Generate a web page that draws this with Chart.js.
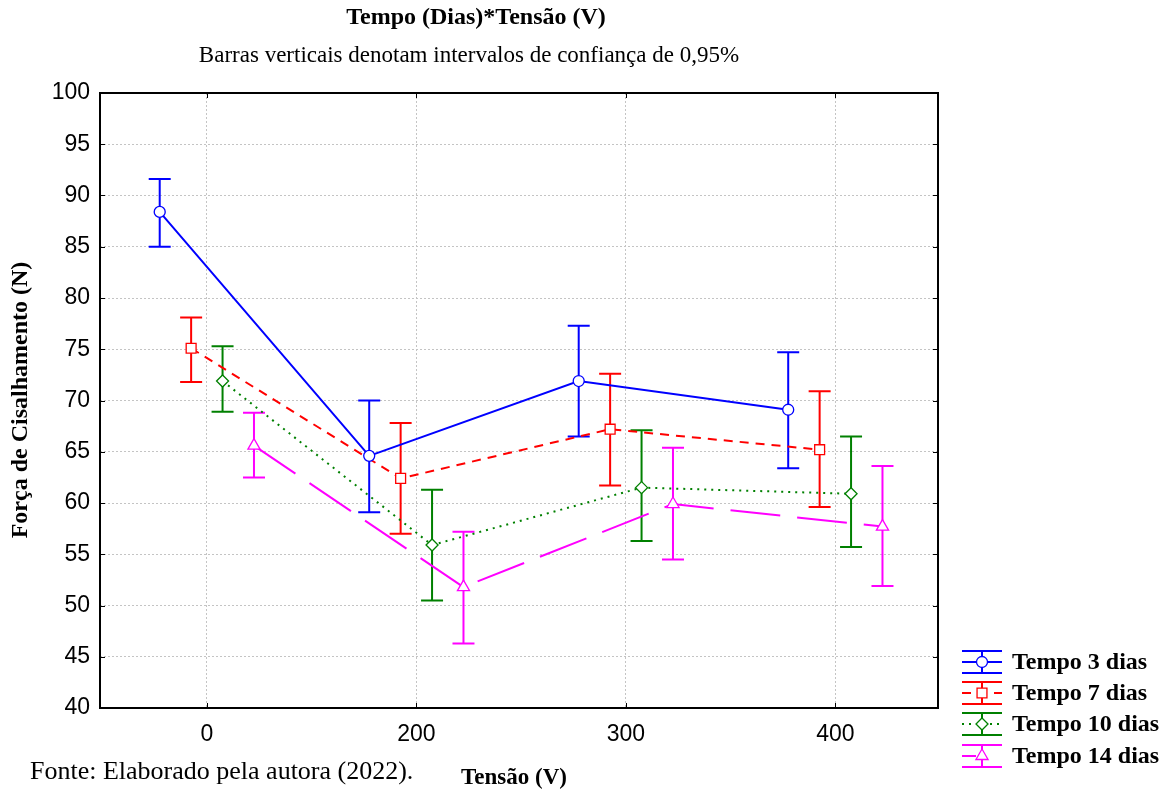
<!DOCTYPE html>
<html>
<head>
<meta charset="utf-8">
<script src="https://cdn.jsdelivr.net/npm/chart.js@4.4.1/dist/chart.umd.min.js"></script>
<style>
  html, body { margin: 0; padding: 0; background: #fff; }
  #wrap { width: 1171px; height: 791px; position: relative; }
</style>
</head>
<body>
<div id="wrap"><canvas id="chart" width="1171" height="791"></canvas></div>
<script>
// categorias do eixo X (Tensão)
const categories = ['0', '200', '300', '400'];
const seriesNames = ['Tempo 3 dias', 'Tempo 7 dias', 'Tempo 10 dias', 'Tempo 14 dias'];
const yTicks = [40, 45, 50, 55, 60, 65, 70, 75, 80, 85, 90, 95, 100];

// médias e intervalos de confiança
const mean3 = [88.4, 64.6, 71.9, 69.1];
const low3 = [85.0, 59.1, 66.5, 63.4];
const high3 = [91.6, 70.0, 77.3, 74.7];

const mean7 = [75.1, 62.4, 67.2, 65.2];
const low7 = [71.8, 57.0, 61.7, 59.6];
const high7 = [78.1, 67.8, 72.6, 70.9];

const mean10 = [71.9, 55.9, 61.5, 60.9];
const low10 = [68.9, 50.5, 56.3, 55.7];
const high10 = [75.3, 61.3, 67.1, 66.5];

const mean14 = [65.6, 51.8, 59.9, 57.7];
const low14 = [62.5, 46.3, 54.5, 51.9];
const high14 = [68.8, 57.2, 65.4, 63.6];

// deslocamento horizontal de cada grupo
const offsets = [-0.225, -0.075, 0.075, 0.225];

const colors = ['#0000ff', '#ff0000', '#008000', '#ff00ff'];
const dashes = [[], [9, 7], [2, 5], [50, 17]];
const pointStyles = ['circle', 'rect', 'rectRot', 'triangle'];
const pointRadius = [5.5, 7, 6, 7];

const means = [mean3, mean7, mean10, mean14];
const lows = [low3, low7, low10, low14];
const highs = [high3, high7, high10, high14];

const datasets = means.map((m, s) => ({
    label: seriesNames[s],
    data: m.map((v, i) => ({ x: i + offsets[s], y: v })),
    lows: lows[s],
    highs: highs[s],
    borderColor: colors[s],
    backgroundColor: '#ffffff',
    borderWidth: 2,
    borderDash: dashes[s],
    pointStyle: pointStyles[s],
    pointRadius: pointRadius[s],
    pointBorderWidth: 1.3,
    pointBackgroundColor: '#ffffff',
    pointBorderColor: colors[s],
    showLine: true,
    tension: 0,
    fill: false
}));

const serif = '"Liberation Serif", "Times New Roman", serif';
const sans = '"Liberation Sans", Arial, sans-serif';

// barras de erro
const errorBars = {
    id: 'errorBars',
    beforeDatasetsDraw(chart) {
        const ctx = chart.ctx;
        const xs = chart.scales.x, ys = chart.scales.y;
        chart.data.datasets.forEach((ds) => {
            ctx.save();
            ctx.strokeStyle = ds.borderColor;
            ctx.lineWidth = 2;
            ds.data.forEach((p, i) => {
                const px = xs.getPixelForValue(p.x);
                const y1 = ys.getPixelForValue(ds.highs[i]);
                const y2 = ys.getPixelForValue(ds.lows[i]);
                ctx.beginPath();
                ctx.moveTo(px, y1); ctx.lineTo(px, y2);
                ctx.moveTo(px - 11, y1); ctx.lineTo(px + 11, y1);
                ctx.moveTo(px - 11, y2); ctx.lineTo(px + 11, y2);
                ctx.stroke();
            });
            ctx.restore();
        });
    }
};

function drawMarker(ctx, style, x, y, r, color) {
    ctx.save();
    ctx.setLineDash([]);
    ctx.fillStyle = '#fff';
    ctx.strokeStyle = color;
    ctx.lineWidth = 1.3;
    ctx.beginPath();
    if (style === 'circle') {
        ctx.arc(x, y, r, 0, Math.PI * 2);
    } else if (style === 'rect') {
        const s = r * Math.SQRT1_2;
        ctx.rect(x - s, y - s, 2 * s, 2 * s);
    } else if (style === 'rectRot') {
        ctx.moveTo(x, y - r); ctx.lineTo(x + r, y); ctx.lineTo(x, y + r); ctx.lineTo(x - r, y); ctx.closePath();
    } else {
        const h = r * 0.866;
        ctx.moveTo(x, y - r); ctx.lineTo(x + h, y + r / 2); ctx.lineTo(x - h, y + r / 2); ctx.closePath();
    }
    ctx.fill();
    ctx.stroke();
    ctx.restore();
}

// moldura, marcas internas, textos e legenda
const decorations = {
    id: 'decorations',
    afterDraw(chart) {
        const ctx = chart.ctx;
        const a = chart.chartArea;
        const xs = chart.scales.x, ys = chart.scales.y;
        ctx.save();
        ctx.strokeStyle = '#000';
        ctx.lineWidth = 2;
        ctx.strokeRect(a.left, a.top, a.right - a.left, a.bottom - a.top);
        ctx.lineWidth = 1;
        ctx.beginPath();
        yTicks.forEach(v => {
            const py = Math.round(ys.getPixelForValue(v)) + 0.5;
            ctx.moveTo(a.left, py); ctx.lineTo(a.left + 5, py);
            ctx.moveTo(a.right, py); ctx.lineTo(a.right - 5, py);
        });
        categories.forEach((c, i) => {
            const px = Math.round(xs.getPixelForValue(i)) + 0.5;
            ctx.moveTo(px, a.bottom); ctx.lineTo(px, a.bottom - 5);
            ctx.moveTo(px, a.top); ctx.lineTo(px, a.top + 5);
        });
        ctx.stroke();

        ctx.fillStyle = '#000';
        ctx.textAlign = 'center';
        ctx.textBaseline = 'middle';
        ctx.font = 'bold 24px ' + serif;
        ctx.fillText('Tempo (Dias)*Tensão (V)', 476, 18);
        ctx.font = '23px ' + serif;
        ctx.fillText('Barras verticais denotam intervalos de confiança de 0,95%', 469, 56);

        ctx.font = 'bold 23px ' + serif;
        ctx.fillText('Tensão (V)', 514, 778);
        ctx.textAlign = 'left';
        ctx.font = '26px ' + serif;
        ctx.fillText('Fonte: Elaborado pela autora (2022).', 30, 772);

        ctx.save();
        ctx.translate(21, 400);
        ctx.rotate(-Math.PI / 2);
        ctx.textAlign = 'center';
        ctx.font = 'bold 24px ' + serif;
        ctx.fillText('Força de Cisalhamento (N)', 0, 0);
        ctx.restore();

        // legenda
        const legendY = [662, 693, 724, 756];
        chart.data.datasets.forEach((ds, s) => {
            const y = legendY[s];
            const x0 = 962, x1 = 1002, xc = 982;
            ctx.save();
            ctx.strokeStyle = ds.borderColor;
            ctx.lineWidth = 2;
            ctx.beginPath();
            ctx.moveTo(x0, y - 11); ctx.lineTo(x1, y - 11);
            ctx.moveTo(x0, y + 11); ctx.lineTo(x1, y + 11);
            ctx.moveTo(xc, y - 11); ctx.lineTo(xc, y + 11);
            ctx.stroke();
            ctx.setLineDash(s === 3 ? [14, 40] : ds.borderDash);
            ctx.beginPath();
            ctx.moveTo(x0, y); ctx.lineTo(x1, y);
            ctx.stroke();
            ctx.restore();
            drawMarker(ctx, ds.pointStyle, xc, y, ds.pointRadius, ds.borderColor);
            ctx.fillStyle = '#000';
            ctx.textAlign = 'left';
            ctx.font = 'bold 24px ' + serif;
            ctx.fillText(ds.label, 1012, y + 1);
        });
        ctx.restore();
    }
};

const ctx = document.getElementById('chart').getContext('2d');
const chart = new Chart(ctx, {
    type: 'scatter',
    data: { datasets: datasets },
    options: {
        responsive: false,
        animation: false,
        layout: { padding: { top: 93, right: 233, left: 0, bottom: 0 } },
        plugins: {
            legend: { display: false },
            tooltip: { enabled: false }
        },
        scales: {
            x: {
                type: 'linear',
                min: -0.51,
                max: 3.49,
                afterBuildTicks: (scale) => {
                    scale.ticks = categories.map((c, i) => ({ value: i }));
                },
                afterFit: (scale) => { scale.height = 83; },
                ticks: {
                    callback: (v) => categories[v],
                    font: { family: sans, size: 23 },
                    color: '#000',
                    padding: 13,
                    maxRotation: 0
                },
                grid: { color: '#c4c4c4', lineWidth: 1, drawTicks: false },
                border: { display: false, dash: [2, 2] }
            },
            y: {
                min: 40,
                max: 100,
                afterBuildTicks: (scale) => {
                    scale.ticks = yTicks.map(v => ({ value: v }));
                },
                afterFit: (scale) => { scale.width = 100; },
                ticks: {
                    font: { family: sans, size: 23 },
                    color: '#000',
                    padding: 10
                },
                grid: { color: '#c4c4c4', lineWidth: 1, drawTicks: false },
                border: { display: false, dash: [2, 2] }
            }
        }
    },
    plugins: [errorBars, decorations]
});
</script>
</body>
</html>
